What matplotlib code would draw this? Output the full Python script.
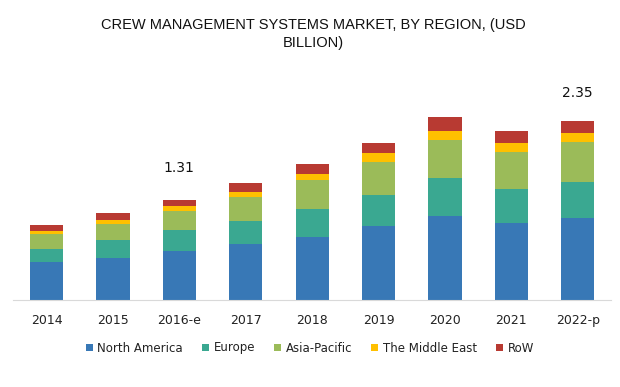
import matplotlib
matplotlib.use("Agg")
import matplotlib.pyplot as plt
import numpy as np

years = ["2014", "2015", "2016-e", "2017", "2018", "2019", "2020", "2021", "2022-p"]
regions = ["North America", "Europe", "Asia-Pacific", "The Middle East", "RoW"]

north_america = [0.494, 0.546, 0.637, 0.734, 0.829, 0.965, 1.104, 1.013, 1.068]
europe = [0.178, 0.244, 0.275, 0.305, 0.367, 0.414, 0.494, 0.441, 0.472]
asia_pacific = [0.193, 0.202, 0.253, 0.314, 0.376, 0.432, 0.498, 0.489, 0.530]
middle_east = [0.043, 0.060, 0.066, 0.062, 0.075, 0.110, 0.122, 0.110, 0.118]
row = [0.075, 0.084, 0.079, 0.114, 0.131, 0.139, 0.179, 0.157, 0.162]

# totals shown above selected bars
labelled = {"2016-e": "1.31", "2022-p": "2.35"}

colors = ["#3878b6", "#3aa891", "#9bbb59", "#ffc000", "#b83a32"]


def main() -> None:
    fig = plt.figure(figsize=(6.2, 3.87), dpi=100)
    ax = fig.add_axes([13.3 / 620, 1 - 300 / 387, 597.7 / 620, 200 / 387])

    series = [north_america, europe, asia_pacific, middle_east, row]
    x = np.arange(len(years))
    bottom = np.zeros(len(years))
    for vals, name, c in zip(series, regions, colors):
        ax.bar(x, vals, width=0.5, bottom=bottom, color=c, label=name)
        bottom += np.array(vals)

    # label offsets (points) differ a little in the original
    offsets = {"2016-e": 18, "2022-p": 15}
    for i, yr in enumerate(years):
        if yr in labelled:
            ax.annotate(labelled[yr], (x[i], bottom[i]), xytext=(0, offsets[yr]),
                        textcoords="offset points", ha="center", va="bottom",
                        fontsize=10, color="#111111")

    ax.set_xlim(-0.5, len(years) - 0.5)
    ax.set_ylim(0, 2.62)
    ax.set_xticks(x)
    ax.set_xticklabels(years, fontsize=9, color="#222222")
    ax.tick_params(axis="x", length=0, pad=10)
    ax.set_yticks([])
    for s in ["top", "right", "left"]:
        ax.spines[s].set_visible(False)
    ax.spines["bottom"].set_color("#d9d9d9")

    fig.text(313 / 620, 1 - 34 / 387, "CREW MANAGEMENT SYSTEMS MARKET, BY REGION, (USD\nBILLION)",
             ha="center", va="center", fontsize=10.5, linespacing=1.3,
             family=["Liberation Sans Narrow", "Liberation Sans", "DejaVu Sans"],
             color="#111111")

    fig.legend(loc="center", bbox_to_anchor=(0.5, 1 - 348 / 387), ncol=5,
               frameon=False, fontsize=8.5, handlelength=0.6, handleheight=0.6,
               handletextpad=0.4, columnspacing=1.6, labelcolor="#222222")

    fig.savefig("out.png", dpi=100)


if __name__ == "__main__":
    main()
